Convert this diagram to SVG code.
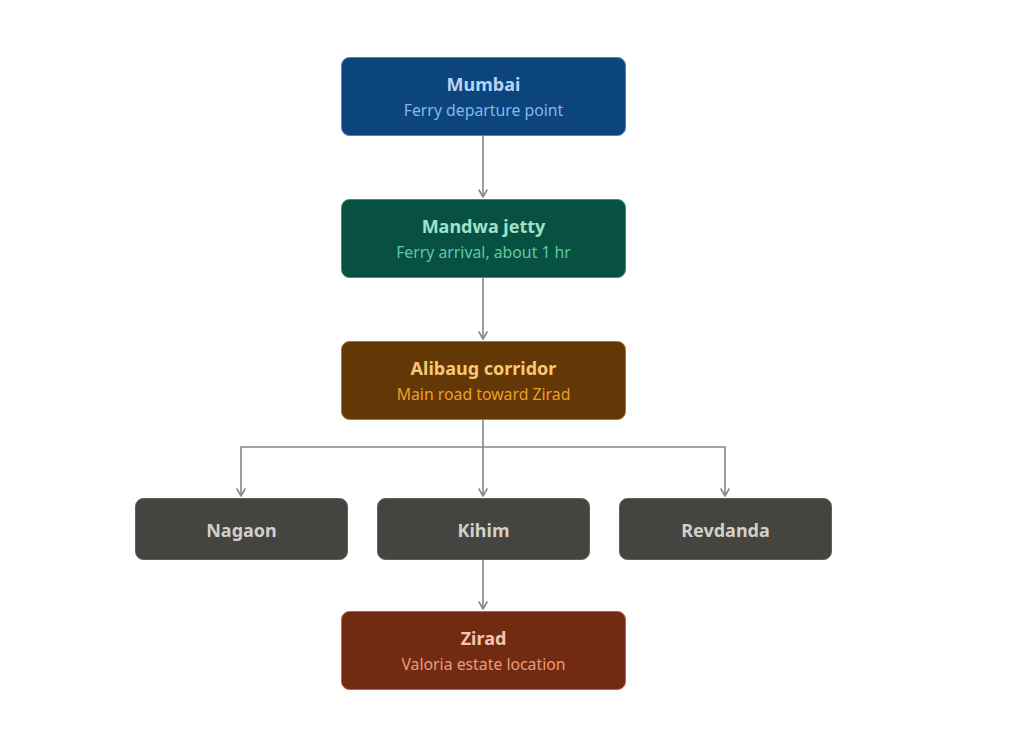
<svg xmlns="http://www.w3.org/2000/svg" width="1024" height="748" viewBox="0 0 1024 748">
<style>
text{font-family:"Noto Sans","Open Sans","Liberation Sans",sans-serif;text-anchor:middle}
.t{font-size:18px;font-weight:bold}
.s{font-size:15.8px}
.c{fill:none;stroke:#888780;stroke-width:1.6}
</style>
<defs>
<marker id="ar" viewBox="0 0 10 10" refX="8" refY="5" markerWidth="10" markerHeight="10" markerUnits="userSpaceOnUse" orient="auto">
<path d="M1,1 L8,5 L1,9" fill="none" stroke="#888780" stroke-width="1.6" stroke-linecap="round" stroke-linejoin="round"/>
</marker>
</defs>
<rect width="1024" height="748" fill="#fff"/>
<g id="connectors">
<path class="c" d="M483,135 V197" marker-end="url(#ar)"/>
<path class="c" d="M483,277 V339" marker-end="url(#ar)"/>
<path class="c" d="M483,419 V496" marker-end="url(#ar)"/>
<path class="c" d="M483,447 H241 V496" marker-end="url(#ar)"/>
<path class="c" d="M483,447 H725 V496" marker-end="url(#ar)"/>
<path class="c" d="M483,559 V609" marker-end="url(#ar)"/>
</g>
<g id="mumbai">
<rect x="341.5" y="57.5" width="284" height="78" rx="8" fill="#0c447c" stroke="#378add" stroke-width="1"/>
<text class="t" x="483.5" y="90.5" fill="#b5d4f4">Mumbai</text>
<text class="s" x="483.5" y="115.5" fill="#85b7eb">Ferry departure point</text>
</g>
<g id="mandwa">
<rect x="341.5" y="199.5" width="284" height="78" rx="8" fill="#085041" stroke="#1d9e75" stroke-width="1"/>
<text class="t" x="483.5" y="232.5" fill="#9fe1cb">Mandwa jetty</text>
<text class="s" x="483.5" y="257.5" fill="#5dcaa5">Ferry arrival, about 1 hr</text>
</g>
<g id="alibaug">
<rect x="341.5" y="341.5" width="284" height="78" rx="8" fill="#633806" stroke="#ba7517" stroke-width="1"/>
<text class="t" x="483.5" y="374.5" fill="#fac775">Alibaug corridor</text>
<text class="s" x="483.5" y="399.5" fill="#ef9f27">Main road toward Zirad</text>
</g>
<g id="nagaon">
<rect x="135.5" y="498.5" width="212" height="61" rx="8" fill="#444441" stroke="#5f5e5a" stroke-width="1"/>
<text class="t" x="241.5" y="536.5" fill="#d3d1c7">Nagaon</text>
</g>
<g id="kihim">
<rect x="377.5" y="498.5" width="212" height="61" rx="8" fill="#444441" stroke="#5f5e5a" stroke-width="1"/>
<text class="t" x="483.5" y="536.5" fill="#d3d1c7">Kihim</text>
</g>
<g id="revdanda">
<rect x="619.5" y="498.5" width="212" height="61" rx="8" fill="#444441" stroke="#5f5e5a" stroke-width="1"/>
<text class="t" x="725.5" y="536.5" fill="#d3d1c7">Revdanda</text>
</g>
<g id="zirad">
<rect x="341.5" y="611.5" width="284" height="78" rx="8" fill="#712b13" stroke="#d85a30" stroke-width="1"/>
<text class="t" x="483.5" y="644.5" fill="#f5c4b3">Zirad</text>
<text class="s" x="483.5" y="669.5" fill="#f0997b">Valoria estate location</text>
</g>
</svg>
